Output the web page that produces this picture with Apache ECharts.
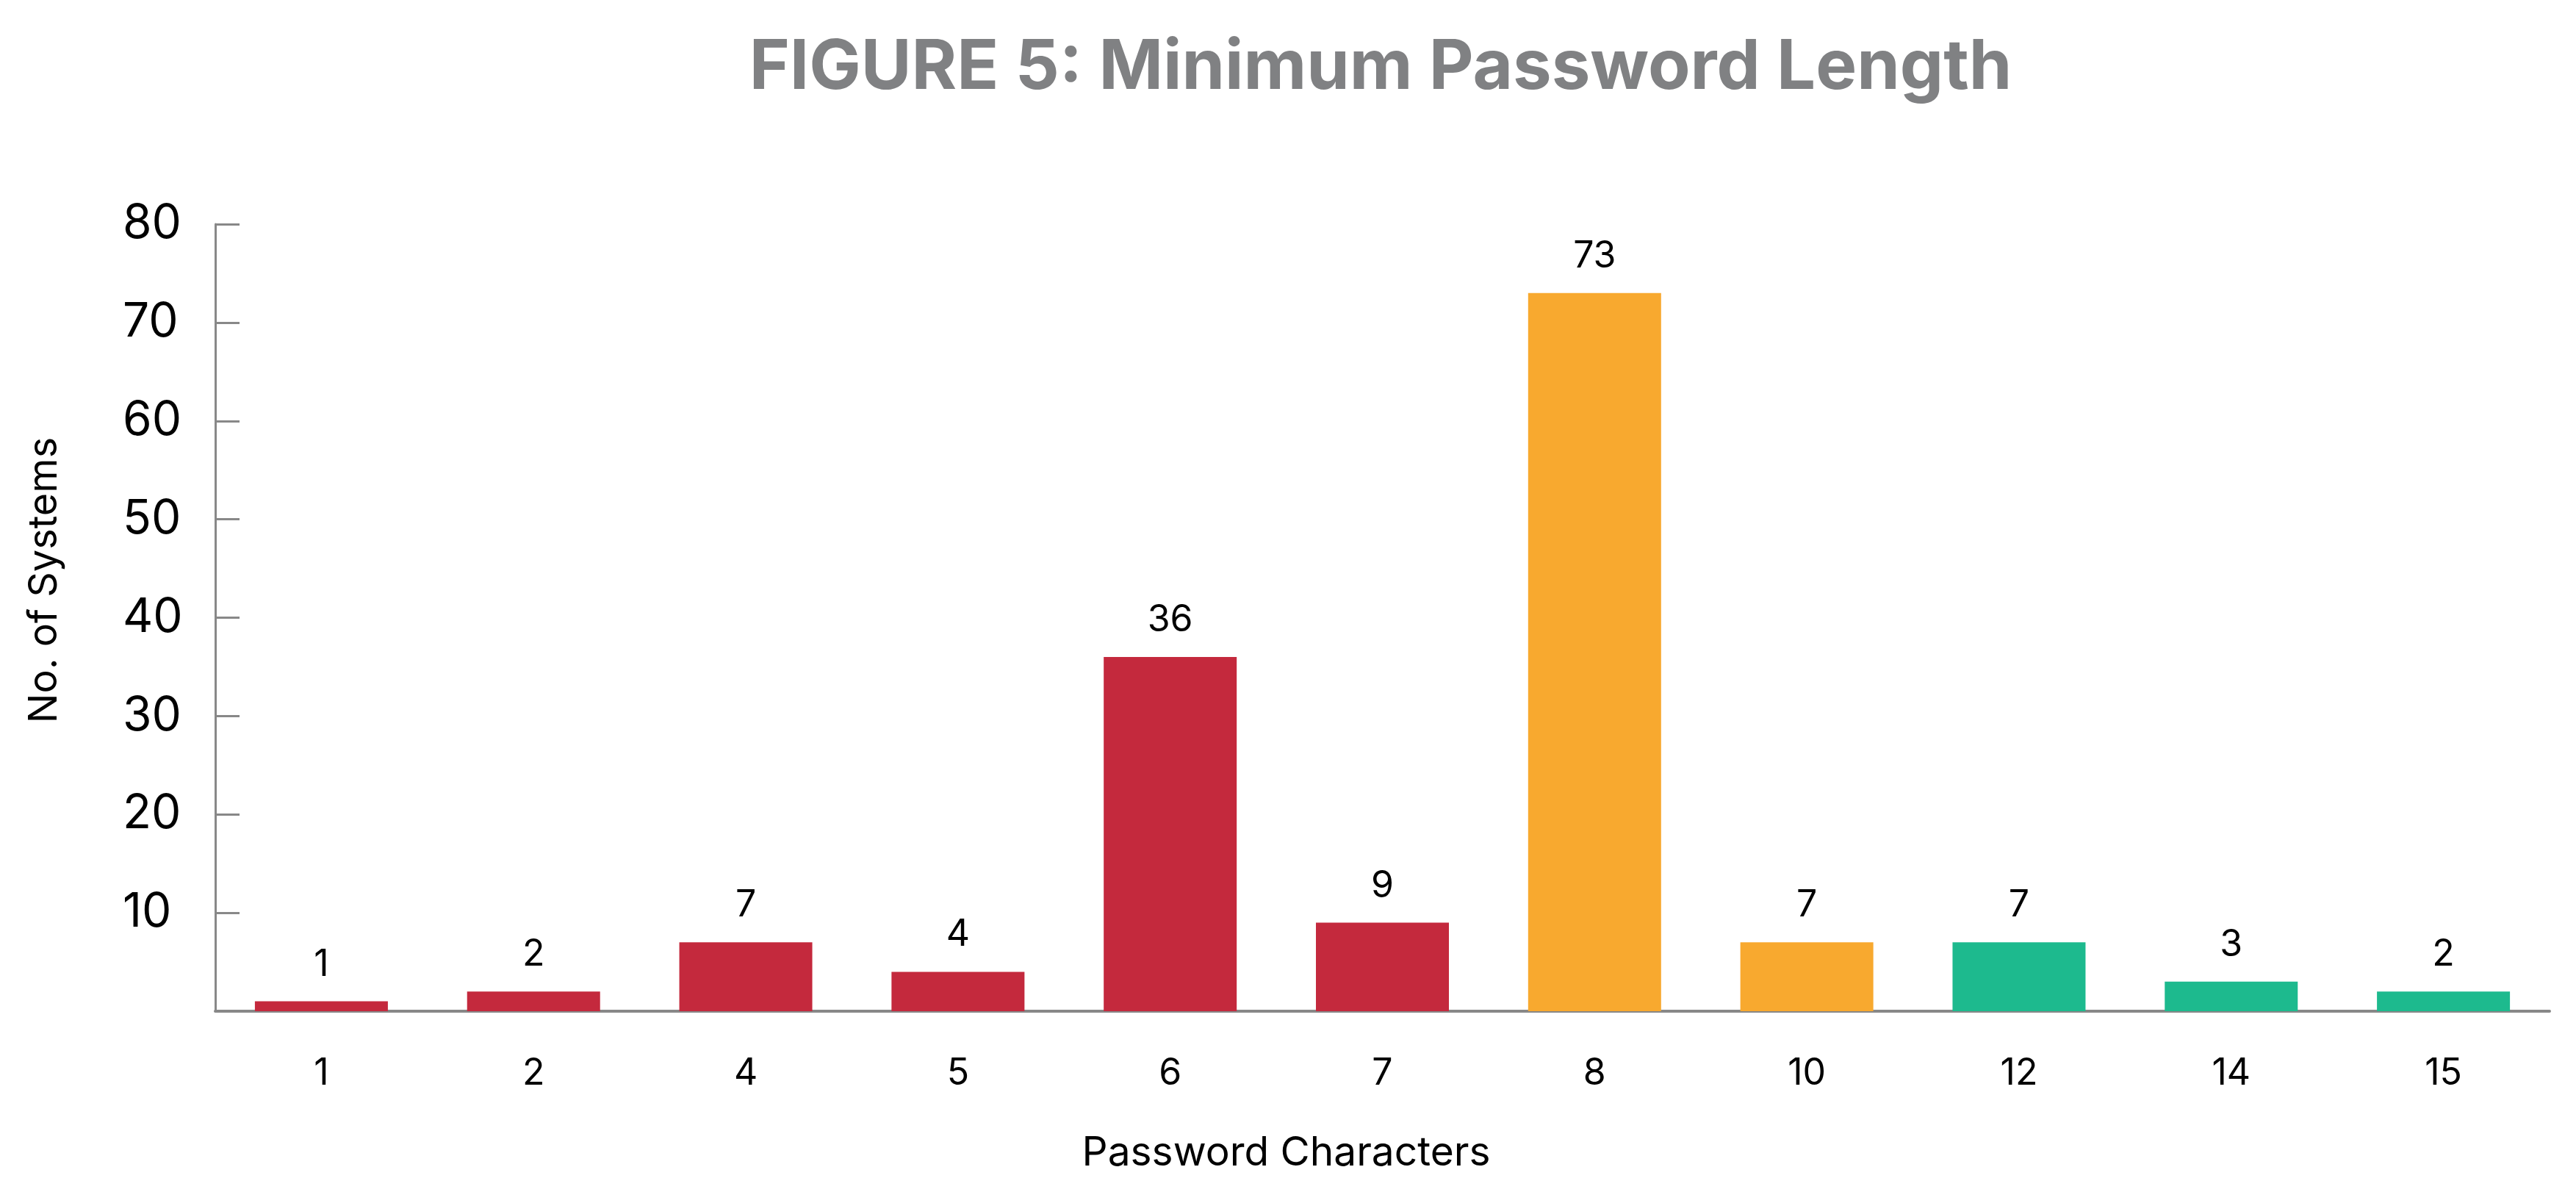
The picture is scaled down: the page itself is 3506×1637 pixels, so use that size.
<!DOCTYPE html>
<html>
<head>
<meta charset="utf-8">
<script src="https://cdn.jsdelivr.net/npm/echarts@6/dist/echarts.min.js"></script>
<style>
html,body{margin:0;padding:0;background:#fff;}
#chart{width:3506px;height:1637px;}
</style>
</head>
<body>
<div id="chart"></div>
<script>
const categories = ['1','2','4','5','6','7','8','10','12','14','15'];
const values = [1, 2, 7, 4, 36, 9, 73, 7, 7, 3, 2];
const yTicks = [0, 80, 10]; // min, max, interval
const RED = '#C4293D', ORANGE = '#F8A92F', GREEN = '#1DBA8E';
const barColors = [RED, RED, RED, RED, RED, RED, ORANGE, ORANGE, GREEN, GREEN, GREEN];

const FONT = 'Inter';
const chart = echarts.init(document.getElementById('chart'), null, {renderer: 'canvas'});
chart.setOption({
  backgroundColor: '#ffffff',
  animation: false,
  title: {
    text: 'FIGURE 5: Minimum Password Length',
    left: 1879,
    textAlign: 'center',
    top: 46,
    padding: 0,
    textStyle: {fontFamily: FONT, fontWeight: 'bold', fontSize: 94, color: '#808183'}
  },
  grid: {left: 293, right: 36, top: 305, bottom: 261, containLabel: false},
  xAxis: {
    type: 'category',
    data: categories,
    name: 'Password Characters',
    nameLocation: 'middle',
    nameGap: 166,
    nameTextStyle: {fontFamily: FONT, fontSize: 55, color: '#000', padding: [0, 262, 0, 0]},
    axisLine: {lineStyle: {color: '#888888', width: 4}},
    axisTick: {show: false},
    axisLabel: {fontFamily: FONT, fontSize: 50, color: '#000', margin: 60}
  },
  yAxis: {
    type: 'value',
    min: yTicks[0], max: yTicks[1], interval: yTicks[2],
    name: 'No. of Systems',
    nameLocation: 'middle',
    nameGap: 205,
    nameTextStyle: {fontFamily: FONT, fontSize: 54, color: '#000', padding: [0, 0, 0, 102]},
    axisLine: {show: true, lineStyle: {color: '#888888', width: 3}},
    axisTick: {show: true, inside: true, length: 33, lineStyle: {color: '#888888', width: 3}},
    splitLine: {show: false},
    axisLabel: {
      fontFamily: FONT, fontSize: 64, color: '#000', align: 'left', margin: 126,
      formatter: v => (v === 0 ? '' : String(v))
    }
  },
  series: [{
    type: 'bar',
    barWidth: 181,
    data: values.map((v, i) => ({value: v, itemStyle: {color: barColors[i]}})),
    label: {show: true, position: 'top', distance: 25, fontFamily: FONT, fontSize: 50, color: '#000'}
  }]
});
</script>
</body>
</html>
